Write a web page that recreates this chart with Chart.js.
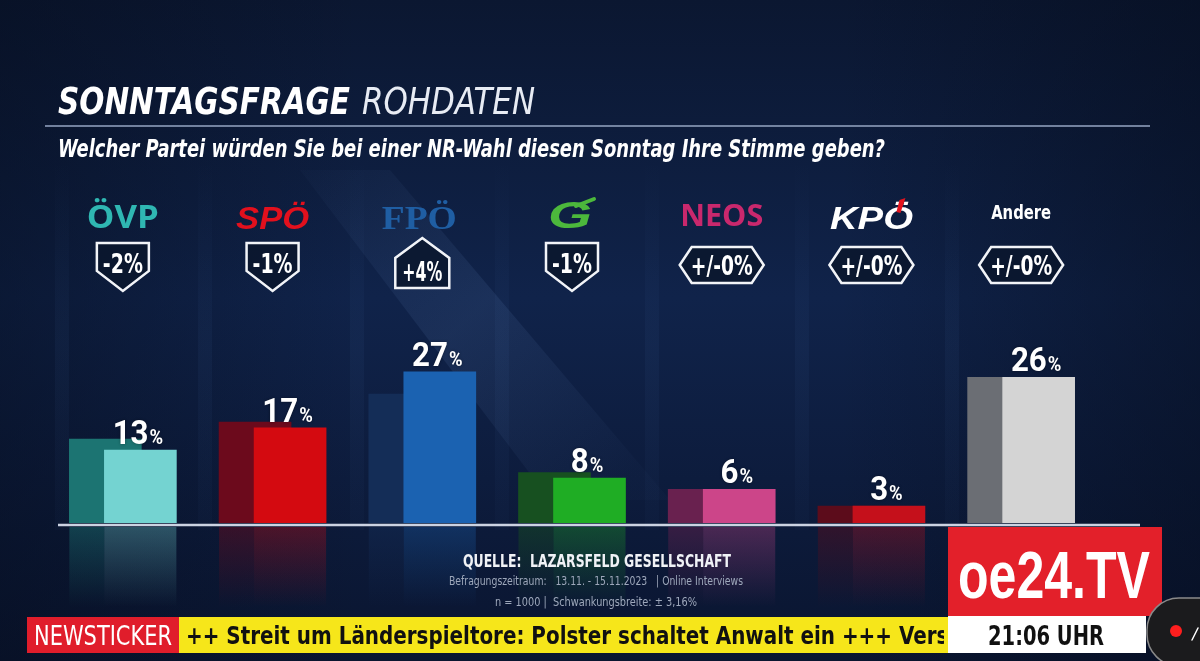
<!DOCTYPE html>
<html>
<head>
<meta charset="utf-8">
<script src="https://cdn.jsdelivr.net/npm/chart.js@4.4.0/dist/chart.umd.min.js"></script>
<style>
  html, body { margin: 0; padding: 0; background: #0b1833; overflow: hidden; }
  canvas { display: block; }
</style>
</head>
<body>
<canvas id="chart" width="1200" height="661"></canvas>
<script>
// Daten der Sonntagsfrage (Rohdaten), Werte in Prozent
const parteien = ["ÖVP", "SPÖ", "FPÖ", "G", "NEOS", "KPÖ", "Andere"];
const aktuell = [13, 17, 27, 8, 6, 3, 26];
const veraenderung = [-2, -1, 4, -1, 0, 0, 0];
const badgeTexte = ["-2%", "-1%", "+4%", "-1%", "+/-0%", "+/-0%", "+/-0%"];
// vorherige Umfrage = aktueller Wert minus Veränderung (hintere, dunkle Balken)
const vorher = aktuell.map((v, i) => v - veraenderung[i]);

// Farben
const vorneFarben = ["#74d3d1", "#d40a10", "#1b62b1", "#1fad24", "#cc4589", "#c5101b", "#d4d4d4"];
const hintenFarben = ["#1c7472", "#6c0a1c", "#142d57", "#175020", "#69214f", "#5c0c1b", "#6b6e74"];
const logoFarben = ["#2fb7b2", "#e2101d", "#1f5ea3", "#4cb83c", "#c9286d", "#ffffff", "#ffffff"];

const SCHMAL = "'Liberation Sans Narrow', 'DejaVu Sans Condensed', 'Liberation Sans', sans-serif";
const VERSATZ = 0.117; // halber Versatz zwischen hinterem und vorderem Balken (in Kategorien)

// Text auf eine Zielbreite stauchen
function fitText(c, text, x, y, w, font, color, align) {
  c.save();
  c.font = font;
  c.fillStyle = color;
  const nat = c.measureText(text).width;
  const s = w / nat;
  c.translate(x, y);
  c.scale(s, 1);
  c.textAlign = align || "left";
  c.textBaseline = "alphabetic";
  c.fillText(text, 0, 0);
  c.restore();
}

function hexToRgba(hex, a) {
  const n = parseInt(hex.slice(1), 16);
  return `rgba(${(n >> 16) & 255},${(n >> 8) & 255},${n & 255},${a})`;
}

const hintergrund = {
  id: "hintergrund",
  beforeDraw(chart) {
    const c = chart.ctx;
    c.save();
    let g = c.createLinearGradient(0, 0, 0, 661);
    g.addColorStop(0, "#0b1731");
    g.addColorStop(0.45, "#10234a");
    g.addColorStop(1, "#0a1530");
    c.fillStyle = g;
    c.fillRect(0, 0, 1200, 661);
    // seitliche Abdunklung
    g = c.createLinearGradient(0, 0, 1200, 0);
    g.addColorStop(0, "rgba(5,12,28,0.45)");
    g.addColorStop(0.3, "rgba(5,12,28,0)");
    g.addColorStop(0.7, "rgba(5,12,28,0)");
    g.addColorStop(1, "rgba(5,12,28,0.5)");
    c.fillStyle = g;
    c.fillRect(0, 0, 1200, 661);
    // senkrechte Lichtstreifen
    [55, 198, 350, 495, 645, 795, 945].forEach((x) => {
      const sg = c.createLinearGradient(0, 160, 0, 530);
      sg.addColorStop(0, "rgba(70,110,170,0)");
      sg.addColorStop(0.5, "rgba(70,110,170,0.08)");
      sg.addColorStop(1, "rgba(70,110,170,0.03)");
      c.fillStyle = sg;
      c.fillRect(x, 160, 14, 370);
    });
    // schräger Lichtkegel
    c.beginPath();
    c.moveTo(300, 170);
    c.lineTo(390, 170);
    c.lineTo(670, 500);
    c.lineTo(550, 500);
    c.closePath();
    g = c.createLinearGradient(300, 170, 600, 500);
    g.addColorStop(0, "rgba(120,160,220,0.02)");
    g.addColorStop(0.5, "rgba(120,160,220,0.11)");
    g.addColorStop(1, "rgba(120,160,220,0.02)");
    c.fillStyle = g;
    c.fill();
    c.restore();
  },
  beforeDatasetsDraw(chart) {
    // Spiegelungen unter der Grundlinie
    const c = chart.ctx;
    const vorne = chart.getDatasetMeta(0).data;
    const hinten = chart.getDatasetMeta(1).data;
    const top = chart.chartArea.bottom + 4;
    c.save();
    vorne.forEach((el, i) => {
      const h = hinten[i];
      const links = h.x - h.width / 2;
      const mitte = el.x - el.width / 2;
      let g = c.createLinearGradient(0, top, 0, top + 80);
      g.addColorStop(0, hexToRgba(hintenFarben[i], 0.45));
      g.addColorStop(1, hexToRgba(hintenFarben[i], 0));
      c.fillStyle = g;
      c.fillRect(links, top, mitte - links, 80);
      g = c.createLinearGradient(0, top, 0, top + 80);
      g.addColorStop(0, hexToRgba(vorneFarben[i], 0.32));
      g.addColorStop(1, hexToRgba(vorneFarben[i], 0));
      c.fillStyle = g;
      c.fillRect(mitte, top, el.width, 80);
    });
    c.restore();
  },
  afterDatasetsDraw(chart) {
    const c = chart.ctx;
    const area = chart.chartArea;
    c.save();
    // Grundlinie
    c.strokeStyle = "rgba(225,232,245,0.9)";
    c.lineWidth = 2.5;
    c.beginPath();
    c.moveTo(58, area.bottom + 2);
    c.lineTo(1140, area.bottom + 2);
    c.stroke();
    // Prozentwerte über den vorderen Balken
    const meta = chart.getDatasetMeta(0);
    const fZ = "bold 34px Roboto, 'Liberation Sans', sans-serif";
    const fP = "bold 20px Roboto, 'Liberation Sans', sans-serif";
    meta.data.forEach((el, i) => {
      const zahl = String(aktuell[i]);
      c.font = fZ;
      const wz = c.measureText(zahl).width * 0.92;
      c.font = fP;
      const wp = c.measureText("%").width * 0.92;
      const x0 = el.x - 3 - (wz + wp) / 2;
      const y = el.y - 6;
      c.shadowColor = "rgba(0,0,0,0.4)";
      c.shadowBlur = 3;
      fitText(c, zahl, x0, y, wz, fZ, "#ffffff");
      fitText(c, "%", x0 + wz + 1, y, wp, fP, "#ffffff");
    });
    c.restore();
  },
  afterDraw(chart) {
    const c = chart.ctx;
    const vorne = chart.getDatasetMeta(0).data;
    const hinten = chart.getDatasetMeta(1).data;
    c.save();
    // Titel
    fitText(c, "SONNTAGSFRAGE", 58, 114, 292, `italic bold 38px ${SCHMAL}`, "#ffffff");
    fitText(c, "ROHDATEN", 362, 114, 173, `italic 38px ${SCHMAL}`, "#e8ecf4");
    c.strokeStyle = "rgba(150,165,195,0.75)";
    c.lineWidth = 2;
    c.beginPath();
    c.moveTo(45, 126);
    c.lineTo(1150, 126);
    c.stroke();
    fitText(c, "Welcher Partei würden Sie bei einer NR-Wahl diesen Sonntag Ihre Stimme geben?",
      58, 157, 827, `italic bold 24px ${SCHMAL}`, "#ffffff");

    // Logos und Veränderungs-Abzeichen, mittig über dem Balkenpaar
    parteien.forEach((p, i) => {
      const cx = (vorne[i].x + hinten[i].x) / 2;
      const col = logoFarben[i];
      if (p === "ÖVP") fitText(c, p, cx, 228, 72, "bold 32px 'Open Sans', 'Noto Sans', sans-serif", col, "center");
      else if (p === "SPÖ") fitText(c, p, cx, 229, 73, "italic bold 32px 'Liberation Sans', sans-serif", col, "center");
      else if (p === "FPÖ") fitText(c, p, cx - 3, 229, 75, "bold 34px 'Liberation Serif', 'DejaVu Serif', serif", col, "center");
      else if (p === "G") {
        fitText(c, p, cx - 2, 228, 44, "italic 900 36px 'Liberation Sans', sans-serif", col, "center");
        c.strokeStyle = col; c.lineWidth = 4; c.lineCap = "round";
        c.beginPath(); c.moveTo(cx + 4, 206); c.lineTo(cx + 22, 199); c.stroke();
      }
      else if (p === "NEOS") fitText(c, p, cx, 226, 83, "bold 30px 'Open Sans', 'Noto Sans', sans-serif", col, "center");
      else if (p === "KPÖ") {
        fitText(c, p, cx, 229, 83, "italic bold 32px 'Liberation Sans', sans-serif", col, "center");
        c.fillStyle = "#e3141e";
        c.beginPath(); c.moveTo(cx + 28, 200); c.lineTo(cx + 34, 198); c.lineTo(cx + 29, 213); c.lineTo(cx + 25, 212); c.closePath(); c.fill();
      }
      else fitText(c, p, cx, 219, 60, `bold 19px ${SCHMAL}`, col, "center");

      // Abzeichen
      c.beginPath();
      if (veraenderung[i] < 0) {
        c.moveTo(cx - 26, 243); c.lineTo(cx + 26, 243); c.lineTo(cx + 26, 271);
        c.lineTo(cx, 291); c.lineTo(cx - 26, 271);
      } else if (veraenderung[i] > 0) {
        c.moveTo(cx, 238); c.lineTo(cx + 27, 258); c.lineTo(cx + 27, 288);
        c.lineTo(cx - 27, 288); c.lineTo(cx - 27, 258);
      } else {
        c.moveTo(cx - 42, 265); c.lineTo(cx - 30, 247); c.lineTo(cx + 30, 247);
        c.lineTo(cx + 42, 265); c.lineTo(cx + 30, 283); c.lineTo(cx - 30, 283);
      }
      c.closePath();
      c.fillStyle = "rgba(10,22,45,0.85)";
      c.fill();
      c.strokeStyle = "#f2f4f8";
      c.lineWidth = 2.5;
      c.lineJoin = "miter";
      c.stroke();
      const ty = veraenderung[i] < 0 ? 273 : veraenderung[i] > 0 ? 281 : 275;
      const tw = veraenderung[i] === 0 ? 62 : 40;
      fitText(c, badgeTexte[i], cx, ty, tw, `bold 27px ${SCHMAL}`, "#ffffff", "center");
    });

    // Quelle
    fitText(c, "QUELLE:  LAZARSFELD GESELLSCHAFT", 597, 567, 268, `bold 18px ${SCHMAL}`, "#f0f2f6", "center");
    fitText(c, "Befragungszeitraum:   13.11. - 15.11.2023   | Online Interviews", 596, 585, 294, `12px ${SCHMAL}`, "#9ea8bb", "center");
    fitText(c, "n = 1000 |  Schwankungsbreite: ± 3,16%", 596, 606, 202, `12px ${SCHMAL}`, "#9ea8bb", "center");

    // oe24.TV Logo
    c.fillStyle = "#e3202a";
    c.fillRect(948, 527, 214, 89);
    fitText(c, "oe24.TV", 1054, 598, 192, "bold 66px 'Liberation Sans', sans-serif", "#ffffff", "center");
    c.fillStyle = "#ffffff";
    c.fillRect(948, 616, 198, 37);
    fitText(c, "21:06 UHR", 1046, 645, 116, `bold 27px ${SCHMAL}`, "#111111", "center");

    // Newsticker
    c.fillStyle = "#e01d2b";
    c.fillRect(27, 617, 152, 36);
    fitText(c, "NEWSTICKER", 103, 645, 138, `27px ${SCHMAL}`, "#ffffff", "center");
    c.fillStyle = "#f6e61a";
    c.fillRect(179, 617, 769, 36);
    c.save();
    c.beginPath();
    c.rect(179, 617, 765, 36);
    c.clip();
    c.font = `bold 25px ${SCHMAL}`;
    const basis = "++ Streit um Länderspieltore: Polster schaltet Anwalt ein +++";
    const s = 706 / c.measureText(basis).width;
    c.translate(186, 644);
    c.scale(s, 1);
    c.fillStyle = "#111111";
    c.fillText(basis + " Verstärkung", 0, 0);
    c.restore();

    // Bedienelement rechts unten
    c.fillStyle = "#1b1b1d";
    c.strokeStyle = "#8a8a8a";
    c.lineWidth = 1.5;
    c.beginPath();
    c.roundRect(1147, 598, 90, 68, 32);
    c.fill();
    c.stroke();
    c.fillStyle = "#ff1e1e";
    c.beginPath();
    c.arc(1176, 631, 6, 0, Math.PI * 2);
    c.fill();
    c.strokeStyle = "#ffffff";
    c.lineWidth = 1.5;
    c.beginPath();
    c.moveTo(1192, 640); c.lineTo(1198, 628);
    c.stroke();
    c.restore();
  }
};

const ctx = document.getElementById("chart").getContext("2d");
new Chart(ctx, {
  type: "bar",
  data: {
    datasets: [
      {
        label: "Sonntagsfrage Rohdaten",
        data: aktuell.map((v, i) => ({ x: i, y: v })),
        xAxisID: "x",
        backgroundColor: vorneFarben,
        grouped: false,
        barThickness: 72
      },
      {
        label: "Vorherige Umfrage",
        data: vorher.map((v, i) => ({ x: i, y: v })),
        xAxisID: "xb",
        backgroundColor: hintenFarben,
        grouped: false,
        barThickness: 72
      }
    ]
  },
  options: {
    responsive: false,
    animation: false,
    layout: { padding: { left: 48, right: 104, top: 243, bottom: 138 } },
    scales: {
      x: { type: "linear", offset: false, min: -0.5 - VERSATZ, max: 6.5 - VERSATZ, display: false },
      xb: { type: "linear", offset: false, min: -0.5 + VERSATZ, max: 6.5 + VERSATZ, display: false },
      y: { min: 0, max: 50, display: false }
    },
    plugins: { legend: { display: false }, tooltip: { enabled: false } }
  },
  plugins: [hintergrund]
});
</script>
</body>
</html>
